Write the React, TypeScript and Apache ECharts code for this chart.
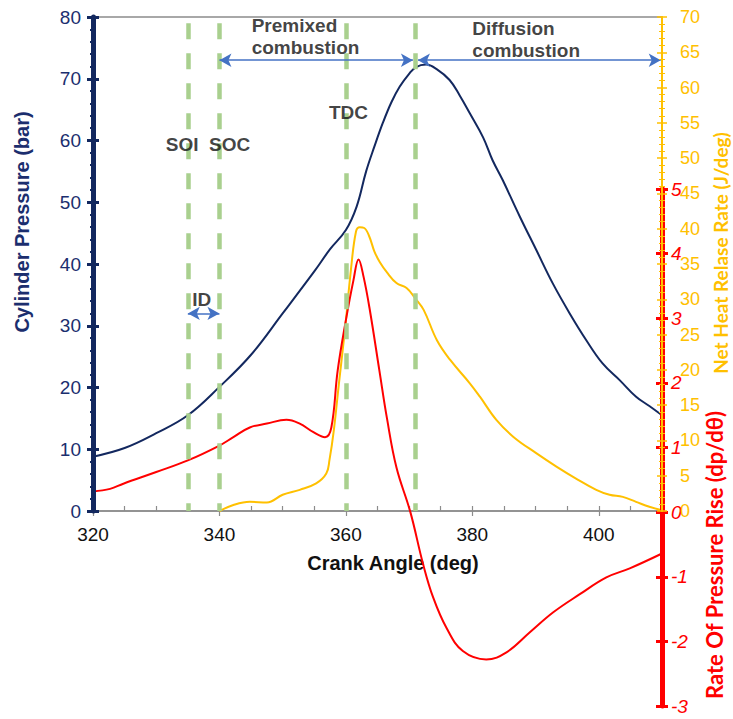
import React, { useEffect, useRef } from "react";
import * as echarts from "echarts";

// Cylinder pressure (bar) vs crank angle
const anglePressure = [320, 325, 330, 335, 340, 345, 350, 355, 357.5, 360, 361.7, 363.2, 364.5, 365.9, 367.2, 368.5, 370, 371.1, 372.7, 374.3, 376.4, 378, 379.6, 381.7, 383.2, 384.8, 387.5, 390.1, 392.7, 395.4, 398, 400.6, 403.3, 405.9, 408, 410];
const pressure = [8.8, 10.2, 12.6, 15.5, 20.1, 25.3, 32.0, 38.8, 42.4, 45.5, 49.3, 55.0, 59.0, 63.0, 66.2, 68.7, 70.8, 71.9, 72.3, 71.6, 69.8, 67.3, 64.4, 60.5, 56.8, 53.6, 47.7, 42.3, 36.9, 32.0, 27.7, 23.9, 21.2, 18.5, 17.0, 15.5];

// Net heat release rate (J/deg)
const angleHrr = [340, 342.2, 344.8, 347.5, 350, 352.7, 355.3, 356.9, 357.4, 358.1, 358.9, 359.9, 360.8, 361.6, 362.2, 362.9, 363.7, 364.5, 365.4, 366.5, 368, 369.6, 371, 372.3, 374.4, 376.5, 379.6, 381.2, 383.8, 386.5, 390.1, 393.3, 396.4, 399.6, 401.7, 403.8, 405.9, 408, 410];
const hrr = [0, 0.85, 1.3, 1.2, 2.3, 3.0, 3.9, 5.3, 7.2, 11.5, 18.1, 26.1, 34.2, 39.6, 40.2, 40.1, 38.9, 36.8, 35.2, 33.8, 32.3, 31.6, 30.1, 28.5, 24.2, 21.4, 18.1, 16.2, 12.9, 10.5, 8.2, 6.3, 4.6, 3.0, 2.3, 2.0, 1.3, 0.6, 0.1];

// Rate of pressure rise (dp/dθ)
const angleRopr = [320, 322.7, 324.8, 330, 335, 340, 342.2, 344.8, 347.5, 350.6, 352.7, 354.8, 356.7, 357.7, 358.7, 360, 361.2, 362, 362.8, 363.8, 365.3, 366.5, 368, 370.2, 372.2, 373.8, 375.9, 378.5, 382.2, 385.4, 389.1, 392.8, 397, 401.2, 404.9, 410];
const ropr = [0.32, 0.36, 0.44, 0.62, 0.8, 1.03, 1.16, 1.31, 1.37, 1.43, 1.37, 1.24, 1.16, 1.31, 2.19, 2.97, 3.59, 3.91, 3.64, 3.12, 2.19, 1.45, 0.69, 0.0, -0.8, -1.32, -1.79, -2.15, -2.28, -2.17, -1.86, -1.55, -1.27, -1.01, -0.87, -0.64];

// Event markers (crank angle)
const markerAngles = [335, 340, 360, 371];
const markerTop = 79;

// Annotations (crank angle, pressure units)
const noteLabels = ["SOI", "SOC", "TDC", "Premixed\ncombustion", "Diffusion\ncombustion", "ID"];
const noteAngles = [334.1, 341.6, 360.4, 345.1, 380.0, 337.2];
const notePressures = [59.3, 59.3, 64.6, 76.8, 76.4, 34.2];
const noteLeftAligned = [false, false, false, true, true, false];

// Phase arrows: [startAngle, endAngle, pressureLevel]
const arrowStarts = [340, 371.4, 335];
const arrowEnds = [370.6, 409.8, 340];
const arrowLevels = [73.0, 73.0, 32.0];

const NAVY = "#13285F";
const NAVY_TEXT = "#1B2E6E";
const YELLOW = "#FFC000";
const RED = "#FF0000";
const GRAY = "#8C8C8C";
const GREEN = "#A9D08E";
const BLUE = "#4472C4";
const FONT = "'Liberation Sans', Arial, sans-serif";
const FONT2 = "Lato, 'Liberation Sans', sans-serif";

const zip = (xs: number[], ys: number[]) => xs.map((x, i) => [x, ys[i]]);

export default function App() {
  const ref = useRef<HTMLDivElement>(null);
  useEffect(() => {
    if (!ref.current) return;
    const chart = echarts.init(ref.current, null, { renderer: "svg" });
    const option: any = {
      animation: false,
      backgroundColor: "#fff",
      grid: [
        { left: 93, right: 71, top: 17, height: 494, show: true, borderColor: GRAY, borderWidth: 1.5, backgroundColor: "transparent" },
        { left: 93, right: 71, top: 189, height: 517, show: false },
      ],
      xAxis: [
        {
          gridIndex: 0, type: "value", position: "bottom", min: 320, max: 410, interval: 20,
          axisLine: { show: true, onZero: false, lineStyle: { color: GRAY, width: 1.5 } },
          axisTick: { show: true, inside: false, length: 5, lineStyle: { color: GRAY, width: 1.2 } },
          axisLabel: { show: true, margin: 14, color: "#111", fontSize: 19, fontFamily: FONT, showMaxLabel: false },
          splitLine: { show: false },
        },
        {
          gridIndex: 0, type: "value", position: "bottom", min: 320, max: 410, interval: 5,
          axisLine: { show: false, onZero: false },
          axisTick: { show: true, inside: true, length: 5, lineStyle: { color: GRAY, width: 1.2 } },
          axisLabel: { show: false },
          splitLine: { show: false },
        },
        { gridIndex: 1, type: "value", min: 320, max: 410, show: false, axisLine: { onZero: false } },
      ],
      yAxis: [
        {
          gridIndex: 0, type: "value", position: "left", min: 0, max: 80, interval: 10, z: 4,
          axisLine: { show: true, onZero: false, lineStyle: { color: NAVY, width: 5 } },
          axisTick: { show: true, inside: false, length: 6, lineStyle: { color: NAVY, width: 3 } },
          minorTick: { show: true, splitNumber: 5, length: 3, lineStyle: { color: NAVY, width: 2 } },
          axisLabel: { show: true, margin: 12, color: NAVY_TEXT, fontSize: 19, fontFamily: FONT },
          splitLine: { show: false },
        },
        {
          gridIndex: 0, type: "value", position: "left", min: 0, max: 80, interval: 10, z: 4,
          axisLine: { show: false, onZero: false },
          axisTick: { show: true, inside: true, length: 6, lineStyle: { color: NAVY, width: 3 } },
          minorTick: { show: true, splitNumber: 5, length: 3, lineStyle: { color: NAVY, width: 2 } },
          axisLabel: { show: false },
          splitLine: { show: false },
        },
        {
          gridIndex: 0, type: "value", position: "right", min: 0, max: 70, interval: 5, z: 6,
          axisLine: { show: true, onZero: false, lineStyle: { color: YELLOW, width: 2 } },
          axisTick: { show: true, inside: false, length: 5, lineStyle: { color: YELLOW, width: 1.5 } },
          minorTick: { show: true, splitNumber: 5, length: 3, lineStyle: { color: YELLOW, width: 1 } },
          axisLabel: { show: true, margin: 18, color: YELLOW, fontSize: 18, fontFamily: FONT },
          splitLine: { show: false },
        },
        {
          gridIndex: 0, type: "value", position: "right", min: 0, max: 70, interval: 5, z: 6,
          axisLine: { show: false, onZero: false },
          axisTick: { show: true, inside: true, length: 5, lineStyle: { color: YELLOW, width: 1.5 } },
          minorTick: { show: true, splitNumber: 5, length: 3, lineStyle: { color: YELLOW, width: 1 } },
          axisLabel: { show: false },
          splitLine: { show: false },
        },
        {
          gridIndex: 1, type: "value", position: "right", min: -3, max: 5, interval: 1, z: 5,
          axisLine: { show: true, onZero: false, lineStyle: { color: RED, width: 5 } },
          axisTick: { show: true, inside: false, length: 6, lineStyle: { color: RED, width: 3 } },
          axisLabel: { show: true, margin: 9, color: RED, fontSize: 19, fontStyle: "italic", fontFamily: FONT },
          splitLine: { show: false },
        },
        {
          gridIndex: 1, type: "value", position: "right", min: -3, max: 5, interval: 1, z: 5,
          axisLine: { show: false, onZero: false },
          axisTick: { show: true, inside: true, length: 6, lineStyle: { color: RED, width: 3 } },
          axisLabel: { show: false },
          splitLine: { show: false },
        },
      ],
      series: [
        {
          name: "Cylinder Pressure", type: "line", xAxisIndex: 0, yAxisIndex: 0, z: 2,
          data: zip(anglePressure, pressure), showSymbol: false, smooth: 0.4,
          lineStyle: { color: NAVY, width: 2 },
        },
        {
          name: "Net Heat Release Rate", type: "line", xAxisIndex: 0, yAxisIndex: 2, z: 2,
          data: zip(angleHrr, hrr), showSymbol: false, smooth: 0.4,
          lineStyle: { color: YELLOW, width: 2 },
        },
        {
          name: "Rate Of Pressure Rise", type: "line", xAxisIndex: 2, yAxisIndex: 4, z: 2,
          data: zip(angleRopr, ropr), showSymbol: false, smooth: 0.4,
          lineStyle: { color: RED, width: 2 },
        },
        {
          name: "Annotations", type: "scatter", xAxisIndex: 0, yAxisIndex: 0, z: 5,
          symbolSize: 0, silent: true,
          data: noteLabels.map((t, i) => ({
            value: [noteAngles[i], notePressures[i]],
            label: {
              show: true,
              formatter: t,
              position: noteLeftAligned[i] ? "right" : "inside",
              distance: 0,
              align: noteLeftAligned[i] ? "left" : "center",
              color: "#111",
              fontSize: 19,
              fontWeight: "bold",
              fontFamily: FONT,
              lineHeight: 22,
            },
          })),
          markLine: {
            silent: true,
            animation: false,
            label: { show: false },
            data: [
              ...markerAngles.map((a) => [
                { coord: [a, markerTop], symbol: "none", lineStyle: { color: GREEN, width: 4.5, type: [16, 14] } },
                { coord: [a, 0], symbol: "none" },
              ]),
              ...arrowStarts.map((s, i) => [
                { coord: [s, arrowLevels[i]], symbol: "arrow", symbolSize: [10, 12], lineStyle: { color: BLUE, width: 1.5, type: "solid" } },
                { coord: [arrowEnds[i], arrowLevels[i]], symbol: "arrow", symbolSize: [10, 12] },
              ]),
            ],
          },
        },
      ],
      graphic: [
        {
          type: "text", x: 22, y: 222, rotation: Math.PI / 2,
          style: { text: "Cylinder Pressure (bar)", fill: NAVY_TEXT, fontSize: 20, fontWeight: "bold", fontFamily: FONT, align: "center", verticalAlign: "middle", textAlign: "center", textVerticalAlign: "middle" },
        },
        {
          type: "text", x: 720, y: 253, rotation: Math.PI / 2,
          style: { text: "Net Heat Relase Rate (J/deg)", fill: YELLOW, fontSize: 19, fontWeight: "bold", fontFamily: FONT2, align: "center", verticalAlign: "middle", textAlign: "center", textVerticalAlign: "middle" },
        },
        {
          type: "text", x: 714, y: 555, rotation: Math.PI / 2,
          style: { text: "Rate Of Pressure Rise (dp/dθ)", fill: RED, fontSize: 22, fontWeight: "bold", fontFamily: FONT2, align: "center", verticalAlign: "middle", textAlign: "center", textVerticalAlign: "middle" },
        },
        {
          type: "text", x: 393, y: 563,
          style: { text: "Crank Angle (deg)", fill: "#111", fontSize: 20, fontWeight: "bold", fontFamily: FONT, align: "center", verticalAlign: "middle", textAlign: "center", textVerticalAlign: "middle" },
        },
      ],
    };
    chart.setOption(option);
    return () => chart.dispose();
  }, []);
  return <div ref={ref} style={{ width: 733, height: 719, position: "absolute", left: 0, top: 0 }} />;
}
